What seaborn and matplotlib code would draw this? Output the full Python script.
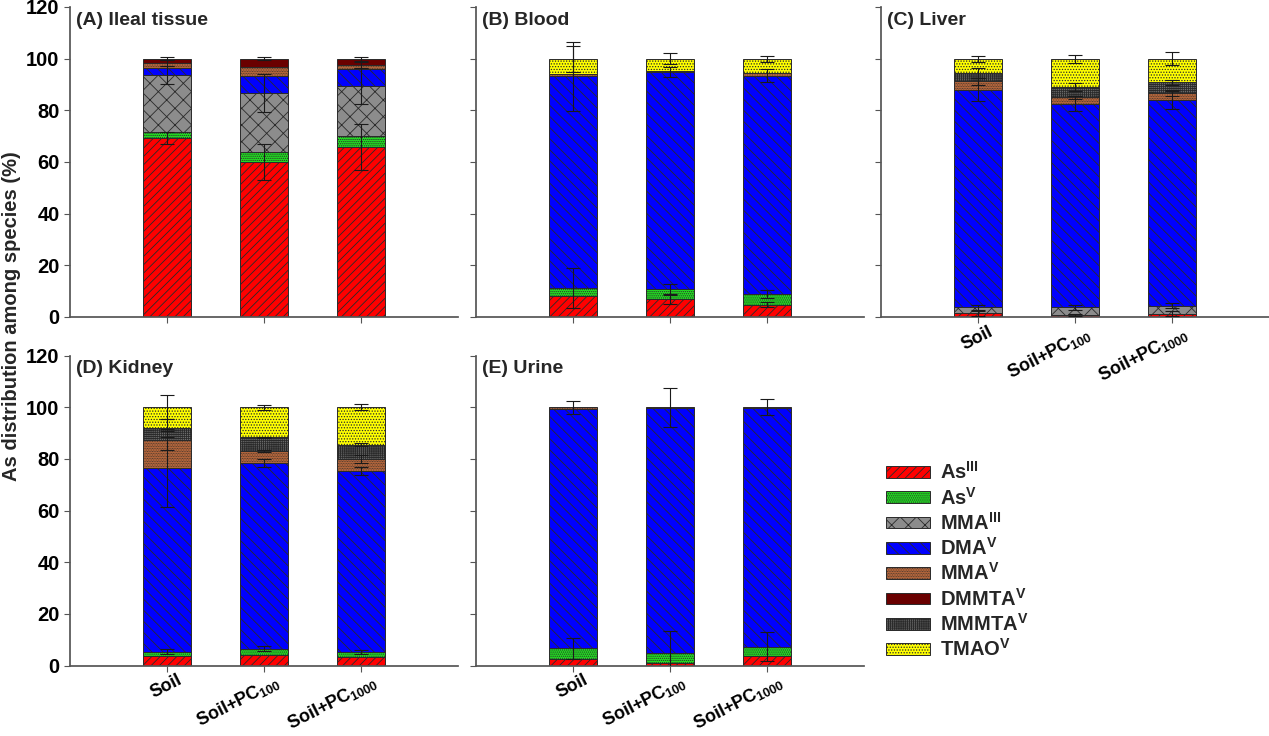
import matplotlib
matplotlib.use("Agg")
import matplotlib.pyplot as plt
from matplotlib.patches import Patch
import seaborn as sns
import numpy as np
import pandas as pd

#%% Data (% of total As species)
treatments = ["Soil", "Soil+PC$_{100}$", "Soil+PC$_{1000}$"]
species = ["AsIII", "AsV", "MMAIII", "DMAV", "MMAV", "DMMTAV", "MMMTAV", "TMAOV"]
species_labels = ["As$^{\\mathbf{III}}$", "As$^{\\mathbf{V}}$", "MMA$^{\\mathbf{III}}$", "DMA$^{\\mathbf{V}}$",
                  "MMA$^{\\mathbf{V}}$", "DMMTA$^{\\mathbf{V}}$", "MMMTA$^{\\mathbf{V}}$", "TMAO$^{\\mathbf{V}}$"]
panel_titles = ["(A) Ileal tissue", "(B) Blood", "(C) Liver", "(D) Kidney", "(E) Urine"]

# rows follow the species order (bottom of stack first), columns follow treatments
ileal_pct = [[69.3, 60.0, 65.8], [2.5, 3.7, 4.1], [21.7, 23.0, 19.4], [2.9, 6.7, 6.7],
             [1.9, 3.2, 1.7], [1.7, 3.4, 2.3], [0, 0, 0], [0, 0, 0]]
ileal_err = [[2.5, 7.0, 9.0], [0, 0, 0], [3.5, 7.5, 7.0], [0, 0, 0],
             [1.0, 0, 1.2], [0.6, 0.5, 0.8], [0, 0, 0], [0, 0, 0]]

blood_pct = [[8.3, 6.9, 4.7], [2.8, 3.8, 4.1], [0, 0, 0], [82.0, 84.1, 84.6],
             [0.9, 0.4, 1.0], [0, 0, 0], [0, 0, 0], [6.0, 4.8, 5.6]]
blood_err = [[0, 2.0, 1.0], [7.7, 2.0, 1.5], [0, 0, 0], [13.5, 2.0, 2.5],
             [0, 0, 0], [0, 0, 0], [0, 0, 0], [5.0, 2.2, 1.2]]

liver_pct = [[1.4, 0.8, 1.3], [0, 0, 0], [2.4, 3.0, 3.0], [84.2, 78.8, 79.8],
             [3.2, 2.4, 2.6], [0, 0, 0], [3.2, 4.0, 4.1], [5.6, 11.0, 9.2]]
liver_err = [[1.0, 0.5, 1.0], [0, 0, 0], [1.0, 1.0, 1.0], [4.5, 3.0, 3.5],
             [1.5, 0.5, 1.0], [0, 0, 0], [2.0, 1.5, 1.0], [1.2, 1.5, 2.5]]

kidney_pct = [[3.7, 3.9, 3.4], [1.6, 2.6, 1.9], [0, 0, 0], [71.1, 71.9, 70.1],
              [10.7, 4.7, 4.5], [0, 0, 0], [4.8, 5.2, 5.6], [8.1, 11.7, 14.5]]
kidney_err = [[0, 0, 0], [1.0, 1.0, 0.8], [0, 0, 0], [15.0, 1.5, 1.5],
              [3.5, 0.5, 1.5], [0, 0, 0], [3.5, 0.3, 0.5], [4.6, 1.0, 1.2]]

urine_pct = [[2.4, 1.1, 3.7], [4.3, 3.9, 3.6], [0, 0, 0], [92.7, 94.8, 92.5],
             [0.6, 0.2, 0.2], [0, 0, 0], [0, 0, 0], [0, 0, 0]]
urine_err = [[0, 0, 0], [4.0, 8.5, 5.5], [0, 0, 0], [0, 0, 0],
             [2.5, 7.5, 3.0], [0, 0, 0], [0, 0, 0], [0, 0, 0]]

#%% Style
colors = ["#ff0000", "#22e022", "#8c8c8c", "#0000ff", "#d2733f", "#6a0000", "#6e6e6e", "#ffff00"]
hatches = ["////", "........", "xx", "\\\\\\", "..........", None, "++++++++", "......"]

sns.set_theme(style="ticks")
plt.rcParams["font.family"] = ["Liberation Sans", "DejaVu Sans"]
plt.rcParams["font.weight"] = "bold"
plt.rcParams["mathtext.fontset"] = "custom"
plt.rcParams["mathtext.rm"] = "Liberation Sans"
plt.rcParams["mathtext.it"] = "Liberation Sans"
plt.rcParams["mathtext.bf"] = "Liberation Sans:bold"
plt.rcParams["hatch.linewidth"] = 0.6
plt.rcParams["axes.edgecolor"] = "#555555"
plt.rcParams["xtick.color"] = "#555555"
plt.rcParams["ytick.color"] = "#555555"
plt.rcParams["xtick.labelcolor"] = "black"
plt.rcParams["ytick.labelcolor"] = "black"

W, H = 1269, 736
fig = plt.figure(figsize=(W / 100, H / 100), dpi=100)

panels = [(ileal_pct, ileal_err), (blood_pct, blood_err), (liver_pct, liver_err),
          (kidney_pct, kidney_err), (urine_pct, urine_err)]
lefts = [70, 476, 881, 70, 476]
bottoms = [317, 317, 317, 665.5, 665.5]
show_xlabels = [False, False, True, True, True]
show_ylabels = [True, False, False, True, False]
shift = matplotlib.transforms.ScaledTranslation(0.1, 0.02, fig.dpi_scale_trans)

for p, (pct, err) in enumerate(panels):
    ax = fig.add_axes([lefts[p] / W, 1 - bottoms[p] / H, 388 / W, 310 / H])
    bottom = np.zeros(len(treatments))
    tops = []
    for i, sp in enumerate(species):
        vals = np.array(pct[i], dtype=float)
        if vals.sum() > 0:
            df = pd.DataFrame({"treatment": treatments, "pct": vals})
            sns.barplot(data=df, x="treatment", y="pct", order=treatments, color=colors[i],
                        saturation=1, width=0.5, errorbar=None, bottom=bottom.copy(),
                        hatch=hatches[i], edgecolor="#2a2a2a", linewidth=0.7, ax=ax)
        bottom = bottom + vals
        tops.append(bottom.copy())
    # error bars sit on the top of each stacked segment
    for i in range(len(species)):
        e = np.array(err[i], dtype=float)
        keep = e > 0
        if keep.any():
            ax.errorbar(np.arange(3)[keep], tops[i][keep], yerr=e[keep], fmt="none",
                        ecolor="#1a1a1a", elinewidth=0.8, capsize=5, capthick=0.8, zorder=5)
    ax.set_xlim(-1, 3)
    ax.set_ylim(0, 120)
    ax.set_yticks(range(0, 121, 20))
    ax.set(xlabel="", ylabel="")
    sns.despine(ax=ax)
    ax.tick_params(axis="both", direction="out", length=4, width=0.8)
    ax.tick_params(axis="x", pad=2)
    if show_ylabels[p]:
        ax.tick_params(axis="y", labelsize=14.5)
    else:
        ax.set_yticklabels([])
    ax.set_xticks(range(3))
    if show_xlabels[p]:
        ax.set_xticklabels(treatments, rotation=27, ha="right", rotation_mode="anchor",
                           fontsize=13, fontweight="bold")
        for lab in ax.get_xticklabels():
            lab.set_transform(lab.get_transform() + shift)
    else:
        ax.set_xticklabels([])
    ax.text(0.015, 0.985, panel_titles[p], transform=ax.transAxes, ha="left", va="top",
            fontsize=14, fontweight="bold")

fig.text(12 / W, 1 - 316 / H, "As distribution among species (%)", rotation=90,
         ha="center", va="center", fontsize=14.5, fontweight="bold")

handles = [Patch(facecolor=colors[i], edgecolor="#2a2a2a", hatch=hatches[i], linewidth=0.7)
           for i in range(len(species))]
fig.legend(handles, species_labels, loc="upper left", bbox_to_anchor=(872 / W, 1 - 447 / H),
           frameon=False, fontsize=14.5, handlelength=2.2, handleheight=0.5,
           labelspacing=0.17, handletextpad=0.5, borderpad=0.2)

fig.savefig("out.png", dpi=100)
